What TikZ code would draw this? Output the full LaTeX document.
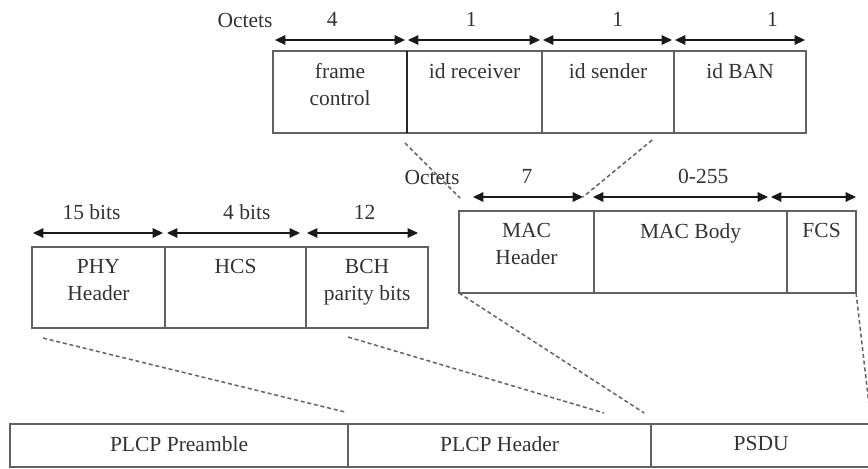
\documentclass[tikz,border=0pt]{standalone}
\usepackage{fontspec}
\setmainfont{Liberation Serif}
\usetikzlibrary{positioning,arrows.meta}
\definecolor{linegray}{gray}{0.38}
\definecolor{textgray}{gray}{0.2}

\begin{document}
\begin{tikzpicture}
		[x=0.025cm, y=-0.025cm,
		 every node/.style={font=\fontsize{15.3}{19.2}\selectfont, text=textgray},
		 field/.style={draw=linegray, line width=1.1pt, rectangle, inner sep=0pt, outer sep=0pt, minimum height=2.05cm},
		 fieldtext/.style={anchor=north, align=center, inner sep=0pt, yshift=-0.3cm},
		 dim/.style={{Triangle[length=0.26cm,width=0.24cm]}-{Triangle[length=0.26cm,width=0.24cm]}, line width=0.75pt, draw=black!90},
		 dimlabel/.style={anchor=base, inner sep=0pt, yshift=0.33cm},
		 zoomline/.style={dash pattern=on 0.1cm off 0.07cm, line width=1.1pt, draw=black!60}]
		\useasboundingbox (0,0) rectangle (868,468);
		\clip (0,0) rectangle (868,468);

		% MAC header fields
		\node[field, anchor=north west, minimum width=3.35cm] (fc) at (273,51) {};
		\node[field, right=0pt of fc, minimum width=3.375cm] (idr) {};
		\node[field, right=0pt of idr, minimum width=3.3cm] (ids) {};
		\node[field, right=0pt of ids, minimum width=3.3cm] (idb) {};
		\draw[line width=1.3pt, black!85] (fc.north east) -- (fc.south east);
		\node[fieldtext] (fc-t) at (fc.north) {frame\\control};
		\node[fieldtext] (idr-t) at (idr.north) {id receiver};
		\node[fieldtext] (ids-t) at (ids.north) {id sender};
		\node[fieldtext] (idb-t) at (idb.north) {id BAN};
		\node[anchor=base, inner sep=0pt] (oct1) at (245,27) {Octets};
		\foreach \a/\b/\p/\t [count=\i] in {275/405/0.44/4, 408/540/0.48/1, 543/672/0.58/1, 675/805/0.75/1} {
			\coordinate (ta\i) at (\a,40);
			\coordinate (tb\i) at (\b,40);
			\draw[dim] (ta\i) -- node[dimlabel, pos=\p] (tl\i) {\t} (tb\i);
		}

		% MAC frame
		\node[field, anchor=north west, minimum width=3.375cm] (mach) at (459,211) {};
		\node[field, right=0pt of mach, minimum width=4.825cm] (macb) {};
		\node[field, right=0pt of macb, minimum width=1.725cm] (fcs) {};
		\node[fieldtext] (mach-t) at (mach.north) {MAC\\Header};
		\node[fieldtext] (macb-t) at (macb.north) {MAC Body};
		\node[fieldtext] (fcs-t) at (fcs.north) {FCS};
		\node[anchor=base, inner sep=0pt] (oct2) at (432,184) {Octets};
		\foreach \a/\b/\p/\t [count=\i] in {473/583/0.49/7, 593/768/0.63/0-255} {
			\coordinate (ma\i) at (\a,197);
			\coordinate (mb\i) at (\b,197);
			\draw[dim] (ma\i) -- node[dimlabel, pos=\p] (ml\i) {\t} (mb\i);
		}
		\coordinate (ma3) at (771,197);
		\coordinate (mb3) at (856,197);
		\draw[dim] (ma3) -- (mb3);

		% PLCP header fields
		\node[field, anchor=north west, minimum width=3.325cm, minimum height=2.025cm] (phy) at (32,247) {};
		\node[field, right=0pt of phy, minimum width=3.525cm, minimum height=2.025cm] (hcs) {};
		\node[field, right=0pt of hcs, minimum width=3.05cm, minimum height=2.025cm] (bch) {};
		\node[fieldtext] (phy-t) at (phy.north) {PHY\\Header};
		\node[fieldtext] (hcs-t) at (hcs.north) {HCS};
		\node[fieldtext] (bch-t) at (bch.north) {BCH\\parity bits};
		\foreach \a/\b/\p/\t [count=\i] in {33/163/0.45/15 bits, 167/300/0.6/4 bits, 307/418/0.52/12} {
			\coordinate (la\i) at (\a,233);
			\coordinate (lb\i) at (\b,233);
			\draw[dim] (la\i) -- node[dimlabel, pos=\p] (ll\i) {\t} (lb\i);
		}

		% PPDU
		\node[field, anchor=north west, minimum width=8.45cm, minimum height=1.075cm] (pre) at (10,424) {};
		\node[field, right=0pt of pre, minimum width=7.575cm, minimum height=1.075cm] (plcph) {};
		\node[field, right=0pt of plcph, minimum width=5.5cm, minimum height=1.075cm] (psdu) {};
		\node[fieldtext] (pre-t) at (pre.north) {PLCP Preamble};
		\node[fieldtext] (plcph-t) at (plcph.north) {PLCP Header};
		\node[fieldtext] (psdu-t) at (psdu.north) {PSDU};

		% expansion lines
		\draw[zoomline] ([shift={(-2,10)}]fc.south east) -- ([shift={(1,-13)}]mach.north west);
		\draw[zoomline] ([shift={(-22,7)}]idb.south west) -- ([shift={(-11,-14)}]mach.north east);
		\draw[zoomline] ([shift={(11,10)}]phy.south west) -- ([shift={(-3,-12)}]pre.north east);
		\draw[zoomline] ([shift={(42,9)}]bch.south west) -- ([shift={(-47,-11)}]plcph.north east);
		\draw[zoomline] (mach.south west) -- ([shift={(-7,-11)}]plcph.north east);
		\draw[zoomline] (fcs.south east) -- (psdu.north east);
	\end{tikzpicture}
\end{document}
